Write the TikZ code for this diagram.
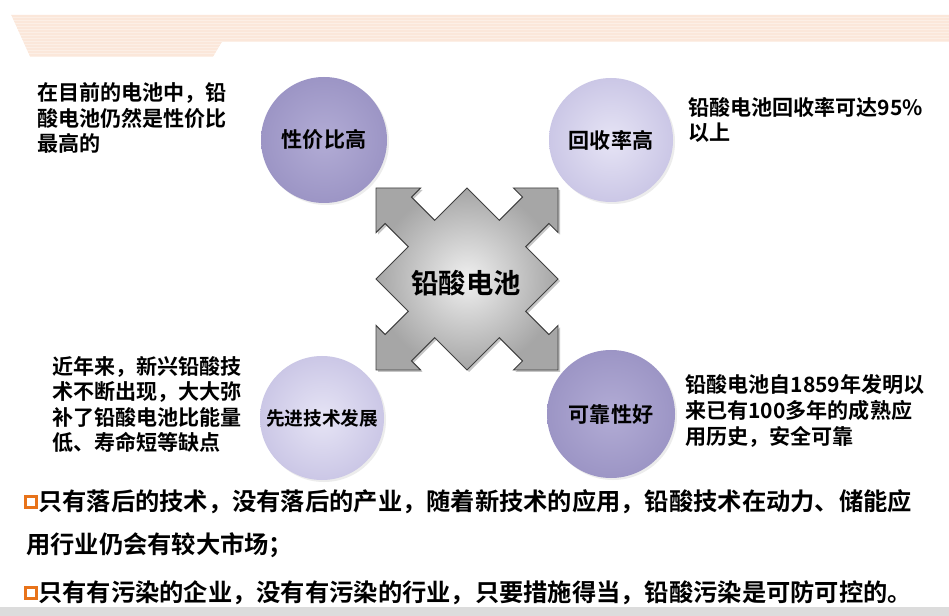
\documentclass[tikz,border=0pt]{standalone}
\usepackage{fontspec}
\setmainfont{Noto Sans CJK SC}[BoldFont={Noto Sans CJK SC Bold}]
\definecolor{band}{HTML}{FBE7DA}
\definecolor{darkin}{HTML}{B2ACD5}
\definecolor{darkout}{HTML}{9C95C5}
\definecolor{lightin}{HTML}{E6E4F5}
\definecolor{lightout}{HTML}{CBC7E6}
\definecolor{bulletc}{HTML}{E8731A}
\definecolor{bottomband}{HTML}{DCDCDC}
\begin{document}
\begin{tikzpicture}[x=0.75pt,y=-0.75pt,
  darkball/.style={circle, minimum size=94.5pt, inner sep=0, shade, inner color=darkin, outer color=darkout, font=\fontsize{15.8pt}{18pt}\selectfont\bfseries},
  lightball/.style={circle, minimum size=93pt, inner sep=0, shade, inner color=lightin, outer color=lightout, font=\fontsize{15.8pt}{18pt}\selectfont\bfseries},
  sidetext/.style={anchor=west, align=left, inner sep=0, font=\fontsize{15.8pt}{19.2pt}\selectfont\bfseries},
  bodytext/.style={anchor=west, inner sep=0, font=\fontsize{18.2pt}{20pt}\selectfont\bfseries},
  bulletbox/.style={draw=bulletc, line width=2.1pt, minimum size=8.6pt, inner sep=0}]
\useasboundingbox (0,0) rectangle (949,616);
\fill[white] (0,0) rectangle (949,616);
% header band
\fill[band] (11,15) -- (949,15) -- (949,42) -- (222,42) -- (213,57) -- (30,57) -- cycle;
\foreach \yy in {17,20,...,56} {\draw[white, opacity=0.35, line width=0.4pt] (0,\yy) -- (949,\yy);}
\fill[white] (0,0) rectangle (11,60);
\fill[white] (11,15) -- (30,57) -- (0,57) -- (0,15) -- cycle;
\fill[white] (222,42.3) -- (213,57.3) -- (949,57.3) -- (949,42.3) -- cycle;
% bottom band
\fill[bottomband] (0,607) rectangle (949,616);
% circles
\fill[gray!15] (326,142) circle (63);
\node[darkball] (cost) at (324,140) {性价比高};
\fill[gray!15] (613,142) circle (62);
\node[lightball] (recycle) at (611,140) {回收率高};
\fill[gray!15] (324,420) circle (62);
\node[lightball, font=\fontsize{14pt}{16pt}\selectfont\bfseries] (tech) at (322,418) {先进技术发展};
\fill[gray!15] (613,416) circle (64);
\node[darkball, minimum size=96pt] (reliable) at (611,414) {可靠性好};
% central cross arrow
\def\crosspath{(-1,0) -- (-0.645,-0.355) -- (-0.90,-0.61) -- (-1,-0.51) -- (-1,-1) -- (-0.51,-1) -- (-0.61,-0.90) -- (-0.355,-0.645) -- (0,-1)
 -- (0.355,-0.645) -- (0.61,-0.90) -- (0.51,-1) -- (1,-1) -- (1,-0.51) -- (0.90,-0.61) -- (0.645,-0.355) -- (1,0)
 -- (0.645,0.355) -- (0.90,0.61) -- (1,0.51) -- (1,1) -- (0.51,1) -- (0.61,0.90) -- (0.355,0.645) -- (0,1)
 -- (-0.355,0.645) -- (-0.61,0.90) -- (-0.51,1) -- (-1,1) -- (-1,0.51) -- (-0.90,0.61) -- (-0.645,0.355) -- cycle}
\begin{scope}[shift={(469,281)}, scale=91]
\fill[gray!45] \crosspath;
\end{scope}
\begin{scope}[shift={(467,279)}, scale=91]
\shade[inner color=gray!12, outer color=gray!70] \crosspath;
\draw[black!75, line width=0.7pt, line join=miter] \crosspath;
\end{scope}
\node[font=\fontsize{20.5pt}{22pt}\selectfont\bfseries] (center) at (466,283) {铅酸电池};
% side texts
\node[sidetext] (t1) at (37,118) {在目前的电池中，铅\\酸电池仍然是性价比\\最高的};
\node[sidetext] (t2) at (688,120) {铅酸电池回收率可达95\%\\以上};
\node[sidetext] (t3) at (52,404.5) {近年来，新兴铅酸技\\术不断出现，大大弥\\补了铅酸电池比能量\\低、寿命短等缺点};
\node[sidetext] (t4) at (685,411) {铅酸电池自1859年发明以\\来已有100多年的成熟应\\用历史，安全可靠};
% bullets
\node[bulletbox] (b1) at (31,502) {};
\node[bodytext] (p1) at (38,502) {只有落后的技术，没有落后的产业，随着新技术的应用，铅酸技术在动力、储能应};
\node[bodytext] (p1b) at (26,545) {用行业仍会有较大市场；};
\node[bulletbox] (b2) at (31,593) {};
\node[bodytext] (p2) at (38,593) {只有有污染的企业，没有有污染的行业，只要措施得当，铅酸污染是可防可控的。};
\end{tikzpicture}
\end{document}
